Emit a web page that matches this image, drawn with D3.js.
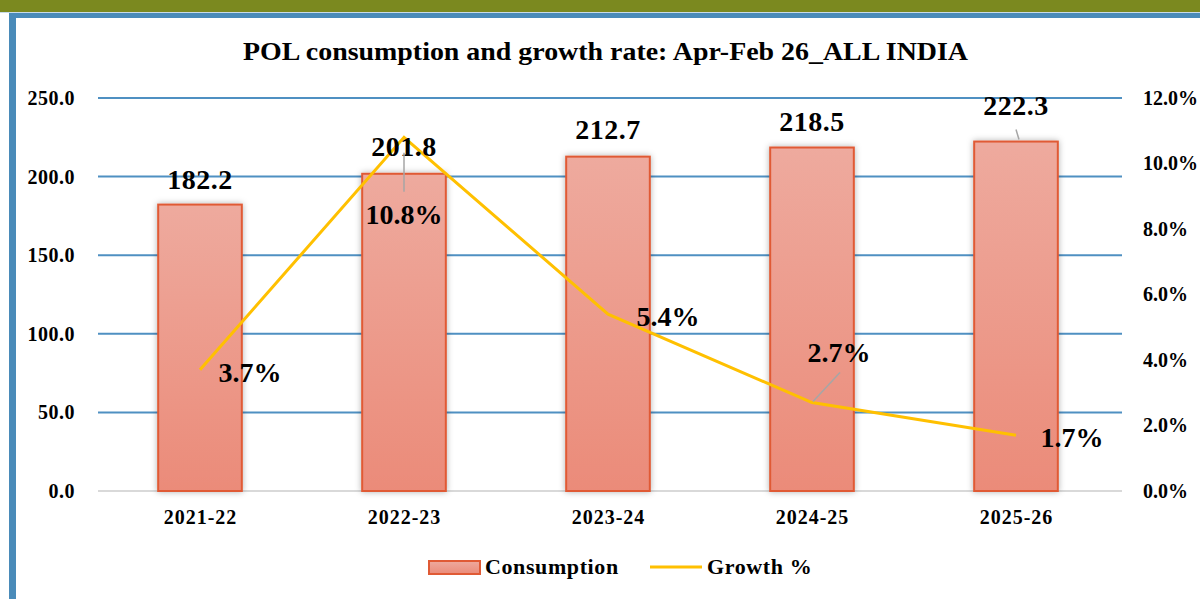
<!DOCTYPE html>
<html>
<head>
<meta charset="utf-8">
<script src="https://cdn.jsdelivr.net/npm/d3@7"></script>
<style>
  body { margin: 0; background: #fff; }
  svg text { font-family: "Liberation Serif", "DejaVu Serif", serif; font-weight: bold; fill: #000; }
</style>
</head>
<body>
<svg id="chart" width="1200" height="599"></svg>
<script>
// chart data
var years = ['2021-22', '2022-23', '2023-24', '2024-25', '2025-26'];
var consumption = [182.2, 201.8, 212.7, 218.5, 222.3];
var growth = [3.7, 10.8, 5.4, 2.7, 1.7];
var leftTicks = [0, 50, 100, 150, 200, 250];
var rightTicks = [0, 2, 4, 6, 8, 10, 12];

var svg = d3.select('#chart');
var defs = svg.append('defs');

var grad = defs.append('linearGradient').attr('id', 'barFill')
  .attr('x1', 0).attr('y1', 0).attr('x2', 0).attr('y2', 1);
grad.append('stop').attr('offset', '0%').attr('stop-color', '#eeaa9e');
grad.append('stop').attr('offset', '100%').attr('stop-color', '#eb8b79');

var shadow = defs.append('filter').attr('id', 'shadow')
  .attr('x', '-20%').attr('y', '-10%').attr('width', '140%').attr('height', '120%');
shadow.append('feDropShadow').attr('dx', 0).attr('dy', 0).attr('stdDeviation', 3)
  .attr('flood-color', '#000').attr('flood-opacity', 0.3);

// slide header strip and frame
svg.append('rect').attr('x', 0).attr('y', 0).attr('width', 1200).attr('height', 12).attr('fill', '#7b891f');
svg.append('rect').attr('x', 0).attr('y', 12).attr('width', 1200).attr('height', 1).attr('fill', '#c9dbe8');
svg.append('rect').attr('x', 9).attr('y', 13).attr('width', 1191).attr('height', 5).attr('fill', '#4a8bb9');
svg.append('rect').attr('x', 9).attr('y', 13).attr('width', 7).attr('height', 586).attr('fill', '#4a8bb9');

var margin = { left: 98, right: 82, top: 98, bottom: 108 };
var width = 1200 - margin.left - margin.right;
var height = 599 - margin.top - margin.bottom;

var g = svg.append('g').attr('transform', 'translate(' + margin.left + ',' + margin.top + ')');

var x = d3.scaleBand().domain(years).range([0, width]).paddingInner(0.59).paddingOuter(0.295);
var xc = d3.scalePoint().domain(years).range([0, width]).padding(0.5);
var yL = d3.scaleLinear().domain([0, 250]).range([height, 0]);
var yR = d3.scaleLinear().domain([0, 12]).range([height, 0]);

svg.append('text').attr('x', 243).attr('y', 60)
  .attr('textLength', 725).attr('lengthAdjust', 'spacingAndGlyphs')
  .style('font-size', '25px').text('POL consumption and growth rate: Apr-Feb 26_ALL INDIA');

// gridlines
g.selectAll('.grid').data(leftTicks).enter().append('line')
  .attr('x1', 0).attr('x2', width + 4)
  .attr('y1', function(d) { return yL(d); }).attr('y2', function(d) { return yL(d); })
  .attr('stroke', function(d) { return d === 0 ? '#d9d9d9' : '#4f90c2'; })
  .attr('stroke-width', 2);

// left axis
var leftAxis = g.append('g').attr('transform', 'translate(-20,0)')
  .call(d3.axisLeft(yL).tickValues(leftTicks).tickSize(0).tickFormat(d3.format('.1f')));
leftAxis.select('.domain').remove();
leftAxis.selectAll('text').style('font-size', '20px').style('letter-spacing', '0.5px');

// right axis
var rightAxis = g.append('g').attr('transform', 'translate(' + (width + 22) + ',0)')
  .call(d3.axisRight(yR).tickValues(rightTicks).tickSize(0).tickFormat(function(d) { return d.toFixed(1) + '%'; }));
rightAxis.select('.domain').remove();
rightAxis.selectAll('text').style('font-size', '20px');

// bottom axis
var bottomAxis = g.append('g').attr('transform', 'translate(0,' + height + ')')
  .call(d3.axisBottom(xc).tickSize(0).tickPadding(19));
bottomAxis.select('.domain').remove();
bottomAxis.selectAll('text').style('font-size', '20px').style('letter-spacing', '1px');

// bars
g.selectAll('.bar').data(consumption).enter().append('rect')
  .attr('x', function(d, i) { return x(years[i]); })
  .attr('y', function(d) { return yL(d); })
  .attr('width', x.bandwidth())
  .attr('height', function(d) { return height - yL(d); })
  .attr('fill', 'url(#barFill)')
  .attr('stroke', '#e05a35').attr('stroke-width', 2)
  .attr('filter', 'url(#shadow)');

// growth line
var line = d3.line()
  .x(function(d, i) { return xc(years[i]); })
  .y(function(d) { return yR(d); });
g.append('path').datum(growth).attr('d', line)
  .attr('fill', 'none').attr('stroke', '#ffc000').attr('stroke-width', 3);

// bar labels (offsets as placed in the original)
var barLabelDy = [-16, -18, -18, -17, -27];
g.selectAll('.blab').data(consumption).enter().append('text')
  .attr('x', function(d, i) { return xc(years[i]); })
  .attr('y', function(d, i) { return yL(d) + barLabelDy[i]; })
  .attr('text-anchor', 'middle').style('font-size', '28px').style('letter-spacing', '0.5px')
  .text(function(d) { return d.toFixed(1); });

// growth labels
var growthDx = [50, 0, 60, 27, 56];
var growthDy = [12, 87, 12, -41, 12];
g.selectAll('.glab').data(growth).enter().append('text')
  .attr('x', function(d, i) { return xc(years[i]) + growthDx[i]; })
  .attr('y', function(d, i) { return yR(d) + growthDy[i]; })
  .attr('text-anchor', 'middle').style('font-size', '28px')
  .text(function(d) { return d.toFixed(1) + '%'; });

// leader lines
g.append('line').attr('stroke', '#a6a6a6').attr('stroke-width', 1.5)
  .attr('x1', xc(years[1])).attr('x2', xc(years[1]))
  .attr('y1', yL(consumption[1]) - 21).attr('y2', yL(consumption[1]) + 18);
g.append('line').attr('stroke', '#a6a6a6').attr('stroke-width', 1.5)
  .attr('x1', xc(years[4])).attr('x2', xc(years[4]) + 3)
  .attr('y1', yL(consumption[4]) - 12).attr('y2', yL(consumption[4]) - 2);
g.append('line').attr('stroke', '#a6a6a6').attr('stroke-width', 1.5)
  .attr('x1', xc(years[3]) + 1).attr('x2', xc(years[3]) + 28)
  .attr('y1', yR(growth[3]) - 1).attr('y2', yR(growth[3]) - 30);

// legend
var legend = svg.append('g').attr('transform', 'translate(428,567)');
legend.append('rect').attr('x', 1).attr('y', -6).attr('width', 51).attr('height', 13)
  .attr('fill', 'url(#barFill)').attr('stroke', '#e05a35').attr('stroke-width', 2);
legend.append('text').attr('x', 57).attr('y', 7).style('font-size', '22px').style('letter-spacing', '0.6px').text('Consumption');
legend.append('line').attr('x1', 222).attr('x2', 274).attr('y1', 0).attr('y2', 0)
  .attr('stroke', '#ffc000').attr('stroke-width', 3);
legend.append('text').attr('x', 279).attr('y', 7).style('font-size', '22px').style('letter-spacing', '0.6px').text('Growth %');
</script>
</body>
</html>
